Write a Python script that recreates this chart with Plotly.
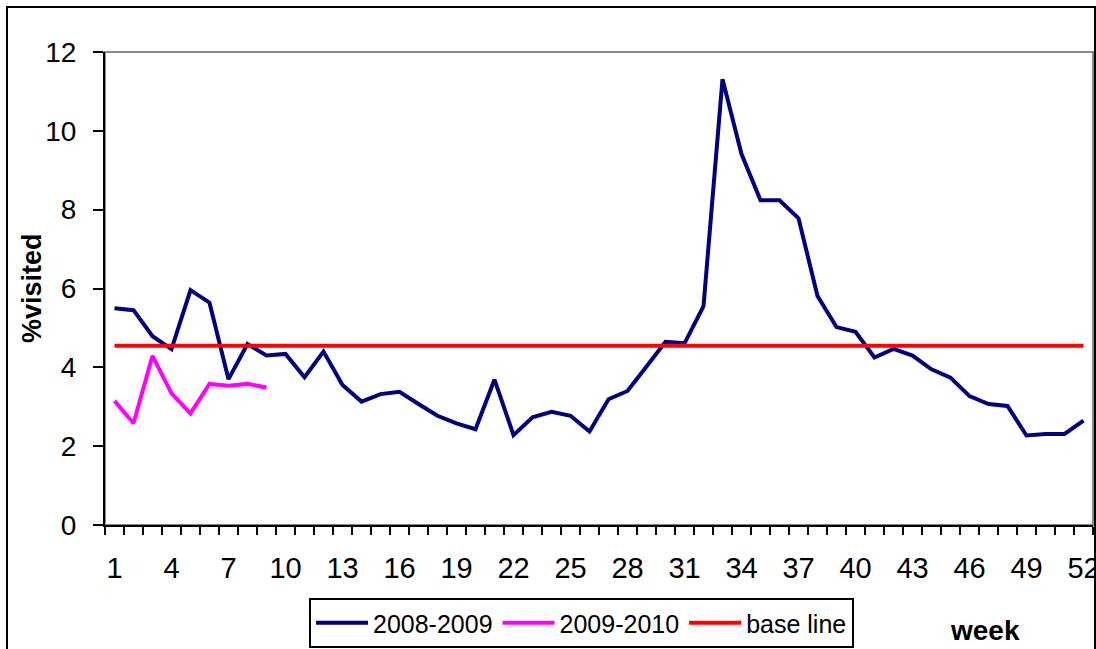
import plotly.graph_objects as go

weeks = list(range(1, 53))
s_2008_2009 = [5.50, 5.45, 4.79, 4.46, 5.96, 5.64, 3.70, 4.59, 4.30, 4.34,
               3.75, 4.40, 3.55, 3.13, 3.32, 3.38, 3.07, 2.77, 2.58, 2.43,
               3.69, 2.28, 2.73, 2.87, 2.77, 2.37, 3.19, 3.40, 4.02, 4.65,
               4.61, 5.55, 11.31, 9.41, 8.24, 8.24, 7.78, 5.81, 5.02, 4.90,
               4.25, 4.47, 4.30, 3.95, 3.74, 3.27, 3.07, 3.02, 2.27, 2.31,
               2.31, 2.65]
weeks_2009_2010 = list(range(1, 10))
s_2009_2010 = [3.15, 2.58, 4.29, 3.34, 2.83, 3.58, 3.53, 3.58, 3.49]
BASELINE = 4.55
base_line = [BASELINE] * len(weeks)
x_tick_vals = list(range(1, 53, 3))
x_tick_text = [str(v) for v in x_tick_vals]
y_tick_vals = [0, 2, 4, 6, 8, 10, 12]

FONT = "Liberation Sans, Arial, sans-serif"

fig = go.Figure()
fig.add_trace(go.Scatter(x=weeks, y=s_2008_2009, mode="lines", name="2008-2009",
                         line=dict(color="#000080", width=4)))
fig.add_trace(go.Scatter(x=weeks_2009_2010, y=s_2009_2010, mode="lines", name="2009-2010",
                         line=dict(color="#FF00FF", width=4)))
fig.add_trace(go.Scatter(x=weeks, y=base_line, mode="lines", name="base line",
                         line=dict(color="#FF0000", width=4)))

L, R, T, B = 105, 3, 52, 124
W, H = 1096, 649
pw, ph = W - L - R, H - T - B

def px_x(p):
    return (p - L) / pw

def px_y(p):
    return (H - B - p) / ph

fig.update_layout(
    width=W, height=H,
    margin=dict(l=L, r=R, t=T, b=B, autoexpand=False),
    paper_bgcolor="white", plot_bgcolor="white",
    font=dict(family=FONT, color="black"),
    showlegend=True,
    legend=dict(orientation="h", x=px_x(309), y=px_y(598), xanchor="left", yanchor="top",
                bgcolor="white", bordercolor="black", borderwidth=2,
                font=dict(size=25, family=FONT), itemwidth=52, tracegroupgap=0),
    xaxis=dict(range=[0.5, 52.5], tickmode="array", tickvals=x_tick_vals, ticktext=x_tick_text,
               ticks="outside", ticklen=0, tickcolor="rgba(0,0,0,0)",
               ticklabelstandoff=16, ticklabeloverflow="allow",
               minor=dict(tick0=0.5, dtick=1, ticks="outside", ticklen=8, tickwidth=1.5,
                          tickcolor="black", showgrid=False),
               showline=True, linecolor="black", linewidth=2, showgrid=False, zeroline=False,
               tickfont=dict(size=29, family=FONT, color="black")),
    yaxis=dict(range=[0, 12], tickmode="array", tickvals=y_tick_vals,
               ticks="outside", ticklen=10, tickwidth=2, tickcolor="black",
               ticklabelstandoff=11,
               showline=True, linecolor="black", linewidth=2, showgrid=False, zeroline=False,
               tickfont=dict(size=28, family=FONT, color="black")),
    shapes=[
        dict(type="rect", xref="paper", yref="paper", x0=0, x1=1, y0=0, y1=1,
             line=dict(color="#888888", width=2), layer="below"),
        dict(type="rect", xref="paper", yref="paper", x0=px_x(7), x1=px_x(1095),
             y0=px_y(700), y1=px_y(7), line=dict(color="black", width=2), layer="below"),
    ],
    annotations=[
        dict(text="<b>%visited</b>", xref="paper", yref="paper", x=px_x(32), y=px_y(288),
             textangle=-90, showarrow=False, font=dict(size=27, family=FONT, color="black"),
             xanchor="center", yanchor="middle"),
        dict(text="<b>week</b>", xref="paper", yref="paper", x=px_x(985), y=px_y(630),
             showarrow=False, font=dict(size=28, family=FONT, color="black"),
             xanchor="center", yanchor="middle"),
    ],
)

fig.write_html("out.html", config={"displayModeBar": False},
               post_script="document.body.style.margin='0';document.body.style.overflow='hidden';")
